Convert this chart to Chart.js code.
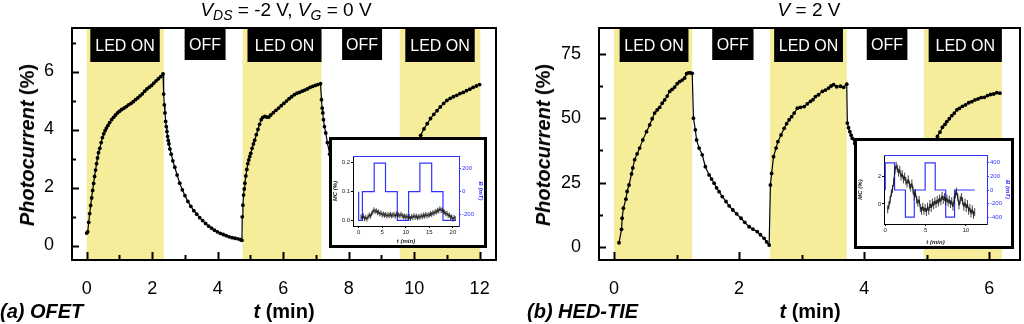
<!DOCTYPE html>
<html>
<head>
<meta charset="utf-8">
<title>Photocurrent vs time</title>
<script src="https://cdn.jsdelivr.net/npm/chart.js@4"></script>
<style>
  body { margin: 0; background: #fff; width: 1024px; height: 324px; position: relative; overflow: hidden;
         font-family: "Liberation Sans", Arial, sans-serif; color: #000; }
  canvas { position: absolute; }
  .inset { position: absolute; background: #fff; border: 3px solid #000; box-sizing: border-box; }
  .inset canvas { left: 0; top: 0; }
  .txt { position: absolute; white-space: nowrap; line-height: 20px; }
  .head { font-size: 19px; line-height: 19px; transform: translateX(-50%); }
  .head sub { font-size: 14px; line-height: 0; vertical-align: -4px; }
  .bold { font-size: 20px; font-weight: bold; }
  .ytitle { transform: translate(-50%, -50%) rotate(-90deg); }
  .center { transform: translateX(-50%); }
</style>
</head>
<body>

<canvas id="chartA" width="512" height="324" style="left:0;top:0"></canvas>
<canvas id="chartB" width="512" height="324" style="left:512px;top:0"></canvas>
<div class="inset" style="left:329px;top:137px;width:158px;height:111px"><canvas id="insetA" width="152" height="105"></canvas></div>
<div class="inset" style="left:854px;top:138px;width:160px;height:111px"><canvas id="insetB" width="154" height="105"></canvas></div>

<div class="txt head" style="left:286px;top:0"><i>V</i><sub><i>DS</i></sub> = -2 V, <i>V</i><sub><i>G</i></sub> = 0 V</div>
<div class="txt head" style="left:809px;top:0"><i>V</i> = 2 V</div>
<div class="txt bold ytitle" style="left:27px;top:145px"><i>Photocurrent</i> (%)</div>
<div class="txt bold ytitle" style="left:543px;top:145px"><i>Photocurrent</i> (%)</div>
<div class="txt bold center" style="left:284px;top:301px"><i>t</i> (min)</div>
<div class="txt bold center" style="left:810px;top:301px"><i>t</i> (min)</div>
<div class="txt bold" style="left:0;top:301px"><i>(a) OFET</i></div>
<div class="txt bold" style="left:527px;top:301px"><i>(b) HED-TIE</i></div>

<script>
const FONT = '"Liberation Sans", Arial, sans-serif';
const BLUE = '#3333ff';
const YELLOW = '#f6ed9b';

// (a) OFET photocurrent, t in min, value in %
const aTime = [
  0.00, 0.03, 0.06, 0.09, 0.12, 0.15, 0.18, 0.21, 0.24, 0.27, 0.30, 0.33, 0.36, 0.40, 0.44, 0.48, 0.52, 0.56, 0.60, 0.65,
  0.70, 0.76, 0.82, 0.88, 0.94, 1.00, 1.07, 1.14, 1.21, 1.28, 1.35, 1.42, 1.49, 1.56, 1.63, 1.70, 1.77, 1.84, 1.91, 1.98,
  2.05, 2.12, 2.19, 2.26, 2.33,
  2.35, 2.37, 2.39, 2.41, 2.43, 2.45, 2.47, 2.49, 2.51, 2.54, 2.58, 2.63, 2.69, 2.76, 2.84, 2.92, 3.00, 3.09, 3.18, 3.27,
  3.36, 3.45, 3.54, 3.63, 3.72, 3.81, 3.90, 3.99, 4.08, 4.17, 4.26, 4.35, 4.44, 4.53, 4.62, 4.70, 4.74,
  4.75, 4.77, 4.79, 4.81, 4.83, 4.86, 4.89, 4.92, 4.95, 4.98, 5.01, 5.05, 5.09, 5.13, 5.18, 5.23, 5.28, 5.33, 5.38, 5.44,
  5.50, 5.56, 5.62, 5.70, 5.78, 5.86, 5.94, 6.02, 6.10, 6.18, 6.26, 6.34, 6.42, 6.50, 6.58, 6.66, 6.74, 6.82, 6.90, 6.98,
  7.06, 7.14,
  7.17, 7.19, 7.21, 7.23, 7.26, 7.30, 7.35, 7.42, 7.50, 7.60, 7.72, 7.85, 8.00, 8.20, 8.40, 8.60, 8.80, 9.00, 9.20, 9.40,
  9.55,
  9.57, 9.60, 9.63, 9.67, 9.72, 9.78, 9.85, 9.93, 10.02, 10.12, 10.20, 10.30, 10.40, 10.50, 10.60, 10.70, 10.80, 10.90,
  11.00, 11.10, 11.20, 11.30, 11.40, 11.50, 11.60, 11.70, 11.80, 11.90, 12.00
];
const aPhoto = [
  0.43, 0.47, 0.80, 1.10, 1.38, 1.64, 1.90, 2.14, 2.38, 2.60, 2.82, 3.02, 3.20, 3.35, 3.55, 3.72, 3.85, 3.96, 4.05, 4.14,
  4.24, 4.34, 4.42, 4.50, 4.57, 4.63, 4.69, 4.74, 4.79, 4.85, 4.90, 4.96, 5.03, 5.09, 5.16, 5.23, 5.32, 5.40, 5.46, 5.52,
  5.60, 5.68, 5.75, 5.82, 5.92,
  5.22, 4.85, 4.57, 4.28, 4.10, 3.93, 3.76, 3.62, 3.50, 3.33, 3.15, 2.92, 2.70, 2.43, 2.15, 1.92, 1.72, 1.52, 1.35, 1.20,
  1.08, 0.96, 0.86, 0.76, 0.67, 0.60, 0.53, 0.47, 0.42, 0.38, 0.34, 0.30, 0.27, 0.25, 0.23, 0.20, 0.18,
  0.99, 1.39, 1.74, 1.95, 2.15, 2.40, 2.62, 2.82, 2.95, 3.07, 3.18, 3.35, 3.50, 3.63, 3.82, 4.00, 4.18, 4.34, 4.42, 4.45,
  4.43, 4.43, 4.50, 4.58, 4.66, 4.74, 4.82, 4.90, 4.98, 5.06, 5.13, 5.20, 5.25, 5.28, 5.32, 5.36, 5.40, 5.45, 5.49, 5.52,
  5.55, 5.58,
  5.03, 4.74, 4.57, 4.34, 4.10, 3.88, 3.55, 3.15, 2.75, 2.35, 1.95, 1.60, 1.30, 1.00, 0.78, 0.60, 0.48, 0.38, 0.30, 0.24,
  0.20,
  0.90, 1.30, 1.65, 2.00, 2.35, 2.70, 3.00, 3.25, 3.45, 3.62, 3.80, 4.02, 4.20, 4.38, 4.52, 4.65, 4.78, 4.90,
  5.00, 5.07, 5.13, 5.18, 5.24, 5.28, 5.34, 5.39, 5.45, 5.50, 5.55
];
const aLedOn = [[0, 2.35], [4.76, 7.17], [9.56, 12.02]];
const aLabels = [[0.11, 2.23, 'LED ON'], [2.99, 4.24, 'OFF'], [4.91, 7.17, 'LED ON'], [7.80, 9.02, 'OFF'], [9.73, 11.85, 'LED ON']];
const aXTicks = [0, 2, 4, 6, 8, 10, 12];
const aXMinor = [1, 3, 5, 7, 9, 11];
const aYTicks = [0, 2, 4, 6];
const aYMinor = [1, 3, 5, 7];

// (b) HED-TIE photocurrent
const bTime = [
  0.08, 0.12, 0.13, 0.15, 0.19, 0.21, 0.24, 0.28, 0.30, 0.33, 0.37, 0.41, 0.46, 0.52, 0.57, 0.61, 0.65, 0.69, 0.73, 0.77,
  0.81, 0.85, 0.89, 0.93, 0.97, 1.01, 1.05, 1.09, 1.13, 1.16, 1.19, 1.22, 1.25,
  1.27, 1.30, 1.32, 1.36, 1.41, 1.46, 1.52, 1.56, 1.60, 1.64, 1.68, 1.73, 1.79, 1.84, 1.90, 1.96, 2.03, 2.09, 2.16, 2.22,
  2.29, 2.34, 2.40, 2.44, 2.48,
  2.50, 2.52, 2.55, 2.59, 2.62, 2.67, 2.72, 2.76, 2.80, 2.84, 2.88, 2.93, 2.98, 3.04, 3.09, 3.14, 3.18, 3.22, 3.27, 3.33,
  3.38, 3.43, 3.47, 3.51, 3.56, 3.62, 3.67, 3.72,
  3.73, 3.75, 3.77, 3.79, 3.81, 3.85, 3.90, 3.96, 4.03, 4.10, 4.18, 4.26, 4.35, 4.44, 4.53, 4.62, 4.71, 4.80, 4.88, 4.94,
  4.96, 4.98, 5.01, 5.04, 5.08, 5.12, 5.17, 5.21, 5.25, 5.29, 5.32, 5.36, 5.40, 5.44, 5.48, 5.52, 5.57, 5.62, 5.67, 5.72,
  5.77, 5.82, 5.87, 5.92, 5.97, 6.02, 6.07, 6.12, 6.17
];
const bPhoto = [
  1.7, 6.9, 11.2, 15.1, 18.6, 21.6, 24.1, 28.4, 30.7, 33.9, 36.2, 38.4, 41.6, 44.8, 47.4, 49.8, 52.0, 53.2, 54.2, 55.8,
  57.1, 58.6, 60.4, 61.2, 62.1, 63.4, 64.2, 64.8, 65.6, 67.3, 67.6, 67.6, 67.4,
  50.0, 45.5, 41.6, 38.4, 35.8, 31.2, 28.0, 26.4, 24.8, 23.0, 21.5, 19.6, 17.7, 16.0, 14.4, 12.9, 11.2, 9.6, 7.9, 7.0,
  6.0, 4.8, 3.4, 2.0, 0.8,
  24.1, 28.6, 35.1, 38.4, 40.9, 43.5, 46.1, 47.9, 49.4, 50.6, 52.0, 53.9, 54.2, 54.5, 55.6, 56.5, 57.2, 58.4, 59.1, 60.4,
  60.9, 61.7, 62.5, 63.0, 62.2, 62.4, 62.0, 63.2,
  48.1, 46.3, 44.8, 43.4, 42.2, 40.2, 38.0, 35.4, 32.6, 30.0, 27.2, 24.6, 21.8, 19.0, 16.4, 13.8, 11.0, 8.2, 5.4, 2.5,
  22.0, 26.5, 30.5, 34.0, 37.5, 40.4, 42.9, 44.6, 46.5, 47.6, 48.7, 49.8, 51.0, 52.0, 53.2, 53.8, 54.6, 55.2, 56.0, 56.4,
  57.1, 57.5, 58.0, 58.1, 58.8, 59.2, 59.4, 59.9, 59.7
];
const bLedOn = [[0, 1.25], [2.495, 3.72], [4.95, 6.2]];
const bLabels = [[0.09, 1.19, 'LED ON'], [1.57, 2.23, 'OFF'], [2.56, 3.66, 'LED ON'], [4.04, 4.69, 'OFF'], [5.03, 6.2, 'LED ON']];
const bXTicks = [0, 2, 4, 6];
const bXMinor = [1, 3, 5];
const bYTicks = [0, 25, 50, 75];
const bYMinor = [12.5, 37.5, 62.5];

// inset (a): MC (%) and field B (mT) vs t (min)
const insetATime = [
  0.5, 0.75, 1, 1.25, 1.5, 1.75, 2, 2.25, 2.5, 2.75, 3, 3.25, 3.5, 3.75, 4, 4.25, 4.5, 4.75, 5, 5.25,
  5.5, 5.75, 6, 6.25, 6.5, 6.75, 7, 7.25, 7.5, 7.75, 8, 8.25, 8.5, 8.75, 9, 9.25, 9.5, 9.75, 10, 10.25,
  10.5, 10.75, 11, 11.25, 11.5, 11.75, 12, 12.25, 12.5, 12.75, 13, 13.25, 13.5, 13.75, 14, 14.25, 14.5, 14.75, 15, 15.25,
  15.5, 15.75, 16, 16.25, 16.5, 16.75, 17, 17.25, 17.5, 17.75, 18, 18.25, 18.5, 18.75, 19, 19.25, 19.5, 19.75, 20, 20.25, 20.5
];
const insetAMC = [
  0.012, 0.008, 0.015, 0.005, 0.010, 0.004, 0.012, 0.018, 0.014, 0.022, 0.028, 0.036, 0.030, 0.033, 0.026, 0.029, 0.022, 0.025, 0.018, 0.022,
  0.017, 0.020, 0.015, 0.019, 0.016, 0.021, 0.015, 0.018, 0.020, 0.014, 0.022, 0.017, 0.019, 0.015, 0.021, 0.016, 0.012, 0.015, 0.010, 0.014,
  0.008, 0.012, 0.006, 0.013, 0.009, 0.016, 0.010, 0.014, 0.008, 0.013, 0.010, 0.016, 0.012, 0.018, 0.014, 0.020, 0.015, 0.019, 0.017, 0.023,
  0.020, 0.026, 0.024, 0.030, 0.028, 0.035, 0.032, 0.040, 0.034, 0.036, 0.030, 0.028, 0.022, 0.024, 0.016, 0.018, 0.010, 0.012, 0.004, 0.010, 0.006
];
const insetAFieldTime = [0, 0.8, 3.3, 5.7, 8.2, 10.6, 13, 15.5, 17.9, 20.3, 20.6];
const insetAField = [0, -250, 0, 250, 0, -250, 0, 250, 0, -250, -250];

// inset (b)
const insetBTime = [
  0.3, 0.45, 0.6, 0.75, 0.9, 1.05, 1.2, 1.35, 1.5, 1.65, 1.8, 1.95, 2.1, 2.25, 2.4, 2.55, 2.7, 2.85, 3, 3.15,
  3.3, 3.45, 3.6, 3.75, 3.9, 4.05, 4.2, 4.35, 4.5, 4.65, 4.8, 4.95, 5.1, 5.25, 5.4, 5.55, 5.7, 5.85, 6, 6.15,
  6.3, 6.45, 6.6, 6.75, 6.9, 7.05, 7.2, 7.35, 7.5, 7.65, 7.8, 7.95, 8.1, 8.25, 8.4, 8.55, 8.7, 8.85, 9, 9.15,
  9.3, 9.45, 9.6, 9.75, 9.9, 10.05, 10.2, 10.35, 10.5, 10.65, 10.8, 10.95, 11.1
];
const insetBMC = [
  -0.4, -0.1, 0.3, 0.8, 1.1, 1.6, 2.5, 2.8, 2.6, 2.3, 2.5, 2.0, 2.2, 1.8, 2.0, 1.7, 1.5, 1.8, 1.4, 1.2,
  1.5, 1.0, 0.6, 0.8, 0.3, 0.1, 0.3, -0.3, -0.5, -0.2, -0.5, -0.3, -0.6, -0.2, -0.5, 0.0, -0.3, 0.1, -0.1, 0.2,
  0.0, 0.3, 0.1, 0.4, 0.2, 0.6, 0.3, 0.5, 0.2, 0.4, 0.1, 0.3, 0.0, 0.2, -0.2, 0.3, 0.7, 0.9, 0.5, -0.1,
  0.3, 0.5, 0.2, -0.2, 0.1, -0.3, 0.0, -0.5, -0.3, -0.7, -0.4, -0.8, -0.6
];
const insetBFieldTime = [0, 1.15, 2.5, 3.6, 4.95, 6.2, 7.5, 8.6, 9.9, 11.1];
const insetBField = [0, 400, 0, -400, 0, 400, 0, -400, 0, 0];

function pairs(xs, ys) {
  return xs.map((x, i) => ({ x: x, y: ys[i] }));
}

// yellow LED-on bands, black labels, frame and inward ticks
const panelDecor = {
  id: 'panelDecor',
  beforeDatasetsDraw(chart, args, o) {
    const { ctx, chartArea: a, scales: { x } } = chart;
    ctx.save();
    ctx.fillStyle = YELLOW;
    o.on.forEach(([s, e]) => {
      const x0 = x.getPixelForValue(s), x1 = x.getPixelForValue(e);
      ctx.fillRect(x0, a.top, x1 - x0, a.height);
    });
    ctx.font = '16px ' + FONT;
    ctx.textAlign = 'center';
    ctx.textBaseline = 'middle';
    o.labels.forEach(([s, e, text]) => {
      const x0 = x.getPixelForValue(s), x1 = x.getPixelForValue(e);
      const h = text === 'OFF' ? 32 : 34;
      ctx.fillStyle = '#000';
      ctx.fillRect(x0, a.top, x1 - x0, h);
      ctx.fillStyle = '#fff';
      ctx.fillText(text, (x0 + x1) / 2, a.top + h / 2 + 2);
    });
    ctx.restore();
  },
  afterDraw(chart, args, o) {
    const { ctx, chartArea: a, scales: { x, y } } = chart;
    ctx.save();
    ctx.strokeStyle = '#000';
    ctx.lineWidth = 2;
    ctx.strokeRect(a.left, a.top, a.width, a.height);
    ctx.beginPath();
    o.yMajor.concat(o.yMinor).forEach((v, i) => {
      const p = Math.round(y.getPixelForValue(v)) + 0.5;
      ctx.moveTo(a.left, p);
      ctx.lineTo(a.left + (i < o.yMajor.length ? 7 : 4), p);
    });
    o.xMajor.concat(o.xMinor).forEach((v, i) => {
      const p = Math.round(x.getPixelForValue(v)) + 0.5;
      ctx.moveTo(p, a.bottom);
      ctx.lineTo(p, a.bottom - (i < o.xMajor.length ? 8 : 5));
    });
    ctx.stroke();
    ctx.restore();
  }
};

function mainChart(id, o) {
  const tickFont = { family: FONT, size: 18 };
  return new Chart(document.getElementById(id), {
    type: 'line',
    data: {
      datasets: [{
        data: pairs(o.t, o.v),
        borderColor: '#000',
        borderWidth: 1.2,
        pointRadius: 1.9,
        pointBackgroundColor: '#000',
        pointBorderWidth: 0,
        tension: 0
      }]
    },
    options: {
      responsive: false,
      animation: false,
      events: [],
      layout: { padding: { left: 0, top: 28, right: o.padRight, bottom: 0 } },
      plugins: {
        legend: { display: false },
        tooltip: { enabled: false },
        panelDecor: { on: o.on, labels: o.labels, xMajor: o.xTicks, xMinor: o.xMinor, yMajor: o.yTicks, yMinor: o.yMinor }
      },
      scales: {
        x: {
          type: 'linear', min: o.xMin, max: o.xMax,
          grid: { display: false }, border: { display: false },
          ticks: { font: tickFont, color: '#000', padding: 10, maxRotation: 0 },
          afterBuildTicks: s => { s.ticks = o.xTicks.map(v => ({ value: v })); },
          afterFit: s => { s.height = 64; }
        },
        y: {
          min: o.yMin, max: o.yMax,
          grid: { display: false }, border: { display: false },
          ticks: { font: tickFont, color: '#000', padding: 10 },
          afterBuildTicks: s => { s.ticks = o.yTicks.map(v => ({ value: v })); },
          afterFit: s => { s.width = o.yWidth; }
        }
      }
    },
    plugins: [panelDecor]
  });
}

const insetTop = {
  id: 'insetTop',
  afterDraw(chart) {
    const { ctx, chartArea: a } = chart;
    ctx.save();
    ctx.strokeStyle = BLUE;
    ctx.lineWidth = 1;
    ctx.beginPath();
    ctx.moveTo(a.left, Math.round(a.top) + 0.5);
    ctx.lineTo(a.right, Math.round(a.top) + 0.5);
    ctx.stroke();
    ctx.restore();
  }
};

function insetChart(id, o) {
  const small = { family: FONT, size: 6 };
  const titleFont = { family: FONT, size: 6, style: 'italic', weight: 'bold' };
  return new Chart(document.getElementById(id), {
    type: 'line',
    data: {
      datasets: [
        {
          data: pairs(o.mcT, o.mc), yAxisID: 'y',
          borderColor: '#111', borderWidth: 0.9,
          pointStyle: 'line', rotation: 90, pointRadius: o.errR,
          pointBorderColor: '#111', pointBorderWidth: 0.8
        },
        {
          data: pairs(o.bT, o.b), yAxisID: 'y1', stepped: 'after',
          borderColor: BLUE, borderWidth: 1.2, pointRadius: 0
        }
      ]
    },
    options: {
      responsive: false,
      animation: false,
      events: [],
      layout: { padding: { left: 0, top: o.padTop, right: 0, bottom: 0 } },
      plugins: { legend: { display: false }, tooltip: { enabled: false } },
      scales: {
        x: {
          type: 'linear', min: o.xMin, max: o.xMax,
          grid: { drawOnChartArea: false, tickLength: 2, color: '#000' },
          border: { color: '#000', width: 1 },
          ticks: { font: small, color: '#222', padding: 1, maxRotation: 0 },
          title: { display: true, text: 't (min)', font: titleFont, color: '#222', padding: 0 },
          afterBuildTicks: s => { s.ticks = o.xTicks.map(v => ({ value: v })); },
          afterFit: s => { s.height = o.xH; }
        },
        y: {
          position: 'left', min: o.yMin, max: o.yMax,
          grid: { drawOnChartArea: false, tickLength: 2, color: '#000' },
          border: { color: '#000', width: 1 },
          ticks: { font: small, color: '#222', padding: 1, callback: o.yFmt },
          title: { display: true, text: 'MC (%)', font: titleFont, color: '#222', padding: 0 },
          afterBuildTicks: s => { s.ticks = o.yTicks.map(v => ({ value: v })); },
          afterFit: s => { s.width = o.yW; }
        },
        y1: {
          position: 'right', min: o.bMin, max: o.bMax,
          grid: { drawOnChartArea: false, tickLength: 2, color: BLUE },
          border: { color: BLUE, width: 1 },
          ticks: { font: small, color: BLUE, padding: 1 },
          title: { display: true, text: 'B (mT)', font: titleFont, color: BLUE, padding: 0 },
          afterBuildTicks: s => { s.ticks = o.bTicks.map(v => ({ value: v })); },
          afterFit: s => { s.width = o.bW; }
        }
      }
    },
    plugins: [insetTop]
  });
}

mainChart('chartA', {
  t: aTime, v: aPhoto, on: aLedOn, labels: aLabels,
  xTicks: aXTicks, xMinor: aXMinor, yTicks: aYTicks, yMinor: aYMinor,
  xMin: -0.45, xMax: 12.5, yMin: -0.5, yMax: 7.5, yWidth: 72, padRight: 16
});
mainChart('chartB', {
  t: bTime, v: bPhoto, on: bLedOn, labels: bLabels,
  xTicks: bXTicks, xMinor: bXMinor, yTicks: bYTicks, yMinor: bYMinor,
  xMin: -0.24, xMax: 6.49, yMin: -5, yMax: 85, yWidth: 87, padRight: 2
});

insetChart('insetA', {
  mcT: insetATime, mc: insetAMC, bT: insetAFieldTime, b: insetAField, errR: 2.5,
  xMin: -1.2, xMax: 21.3, xTicks: [0, 5, 10, 15, 20],
  yMin: -0.02, yMax: 0.223, yTicks: [0, 0.1, 0.2], yFmt: v => v.toFixed(1),
  bMin: -300, bMax: 312, bTicks: [-200, 0, 200],
  padTop: 16, xH: 19, yW: 21, bW: 25
});
insetChart('insetB', {
  mcT: insetBTime, mc: insetBMC, bT: insetBFieldTime, b: insetBField, errR: 4,
  xMin: -0.16, xMax: 12.63, xTicks: [0, 5, 10],
  yMin: -1.47, yMax: 3.59, yTicks: [0, 2], yFmt: v => String(v),
  bMin: -500, bMax: 515, bTicks: [-400, -200, 0, 200, 400],
  padTop: 14, xH: 22, yW: 27, bW: 24
});
</script>
</body>
</html>
